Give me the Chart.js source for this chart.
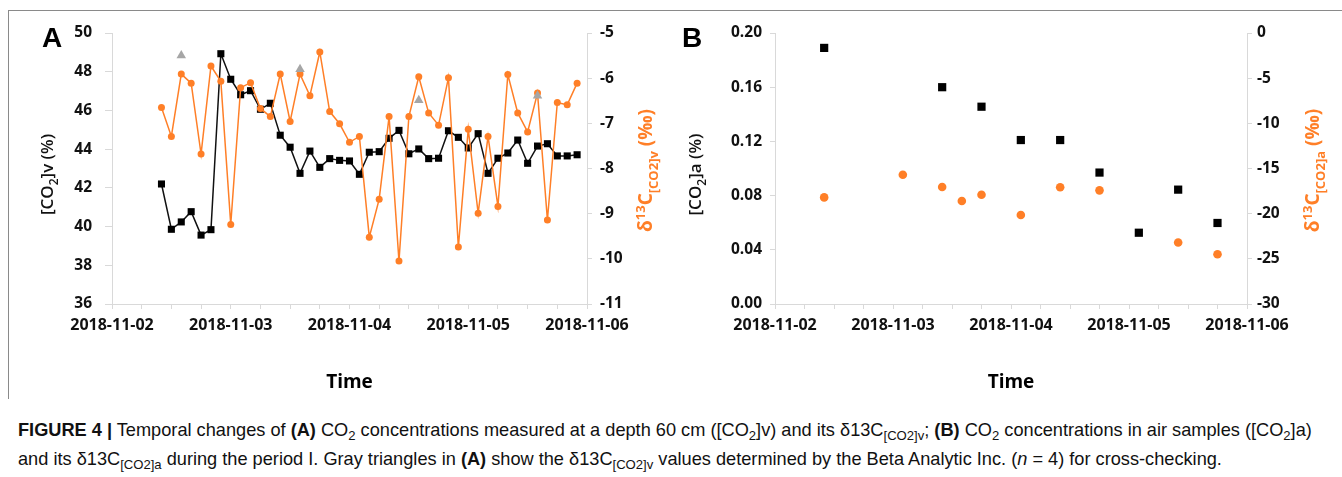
<!DOCTYPE html>
<html>
<head>
<meta charset="utf-8">
<script src="https://cdn.jsdelivr.net/npm/chart.js@4"></script>
<style>
  body { margin: 0; background: #fff; width: 1342px; height: 477px; position: relative; overflow: hidden; font-family: "Open Sans", sans-serif; }
  canvas { position: absolute; top: 0; }
  #chartA { left: 0; }
  #chartB { left: 670px; }
  .frame { position: absolute; left: 8px; top: 10px; width: 1334px; height: 388px; border-top: 1px solid #8a8a8a; border-left: 1px solid #8a8a8a; }
  .panel { position: absolute; top: 22px; font: bold 28px "Liberation Sans", Arial, sans-serif; color: #000; }
  .cap { position: absolute; left: 18px; top: 416px; font: 18.2px/29px "Liberation Sans", Arial, sans-serif; color: #111; white-space: nowrap; }
  .cap sub { font-size: 0.72em; vertical-align: -0.3em; line-height: 0; }
</style>
</head>
<body>
<div class="frame"></div>
<canvas id="chartA" width="670" height="400"></canvas>
<canvas id="chartB" width="672" height="400"></canvas>
<div class="panel" style="left:42px">A</div>
<div class="panel" style="left:682px">B</div>
<div class="cap"><b>FIGURE 4 |</b> Temporal changes of <b>(A)</b> CO<sub>2</sub> concentrations measured at a depth 60 cm ([CO<sub>2</sub>]v) and its δ13C<sub>[CO2]v</sub>; <b>(B)</b> CO<sub>2</sub> concentrations in air samples ([CO<sub>2</sub>]a)<br>and its δ13C<sub>[CO2]a</sub> during the period I. Gray triangles in <b>(A)</b> show the δ13C<sub>[CO2]v</sub> values determined by the Beta Analytic Inc. (<i>n</i> = 4) for cross-checking.</div>
<script>
// panel A: soil gas at 60 cm, every 2 hours
const timesA = [
  "2018-11-02 10:00", "2018-11-02 12:00", "2018-11-02 14:00", "2018-11-02 16:00", "2018-11-02 18:00", "2018-11-02 20:00", "2018-11-02 22:00",
  "2018-11-03 00:00", "2018-11-03 02:00", "2018-11-03 04:00", "2018-11-03 06:00", "2018-11-03 08:00", "2018-11-03 10:00",
  "2018-11-03 12:00", "2018-11-03 14:00", "2018-11-03 16:00", "2018-11-03 18:00", "2018-11-03 20:00", "2018-11-03 22:00",
  "2018-11-04 00:00", "2018-11-04 02:00", "2018-11-04 04:00", "2018-11-04 06:00", "2018-11-04 08:00", "2018-11-04 10:00",
  "2018-11-04 12:00", "2018-11-04 14:00", "2018-11-04 16:00", "2018-11-04 18:00", "2018-11-04 20:00", "2018-11-04 22:00",
  "2018-11-05 00:00", "2018-11-05 02:00", "2018-11-05 04:00", "2018-11-05 06:00", "2018-11-05 08:00", "2018-11-05 10:00",
  "2018-11-05 12:00", "2018-11-05 14:00", "2018-11-05 16:00", "2018-11-05 18:00", "2018-11-05 20:00", "2018-11-05 22:00"
];
const co2v = [
  42.2, 39.86, 40.24, 40.77, 39.56, 39.84, 48.93, 47.61, 46.81, 47.02,
  46.06, 46.37, 44.72, 44.10, 42.75, 43.90, 43.06, 43.51, 43.42, 43.39,
  42.70, 43.84, 43.87, 44.56, 44.97, 43.76, 44.01, 43.51, 43.53, 44.95,
  44.61, 44.06, 44.80, 42.75, 43.53, 43.80, 44.47, 43.27, 44.16, 44.28,
  43.65, 43.65, 43.71
];
const d13Cv = [
  -6.65, -7.29, -5.91, -6.11, -7.68, -5.73, -6.07, -9.24, -6.21, -6.10,
  -6.67, -6.85, -5.91, -6.96, -5.91, -6.39, -5.42, -6.74, -7.01, -7.42,
  -7.29, -9.52, -8.68, -6.85, -10.05, -6.85, -5.97, -6.77, -7.04, -5.99,
  -9.74, -7.13, -8.99, -7.29, -8.84, -5.92, -6.77, -7.19, -6.33, -9.14,
  -6.54, -6.59, -6.11
];
// Beta Analytic cross-check
const betaTimes = ["2018-11-02 14:00", "2018-11-03 14:00", "2018-11-04 14:00", "2018-11-05 14:00"];
const betaD13Cv = [-5.50, -5.80, -6.49, -6.39];

// panel B: air samples
const timesB = [
  "2018-11-02 10:00", "2018-11-03 02:00", "2018-11-03 10:00", "2018-11-03 14:00", "2018-11-03 18:00", "2018-11-04 02:00",
  "2018-11-04 10:00", "2018-11-04 18:00", "2018-11-05 02:00", "2018-11-05 10:00", "2018-11-05 18:00"
];
const co2a = [0.189, null, 0.160, null, 0.1456, 0.121, 0.121, 0.097, 0.0526, 0.0844, 0.0598];
const d13Ca = [-18.2, -15.7, -17.05, -18.6, -17.9, -20.15, -17.08, -17.42, null, -23.2, -24.5];

const dayTicks = ["2018-11-02", "2018-11-03", "2018-11-04", "2018-11-05", "2018-11-06"];

const ORANGE = "#ff7f27";
const AXIS = "#d9d9d9";
const FONT = "'Open Sans', sans-serif";

// hours since 2018-11-02 00:00
function toHours(s) {
  const [d, t] = s.split(" ");
  const day = parseInt(d.slice(8), 10) - 2;
  return day * 24 + parseInt(t.slice(0, 2), 10);
}
function pairs(times, vals) {
  return times.map((t, i) => ({ x: toHours(t), y: vals[i] })).filter(p => p.y !== null);
}

function drawRich(ctx, parts, x, y, size, weight, color) {
  ctx.save();
  ctx.translate(x, y);
  ctx.rotate(-Math.PI / 2);
  ctx.fillStyle = color;
  ctx.textBaseline = "alphabetic";
  const fontOf = p => `${weight} ${(p.sub || p.sup) ? Math.round(size * 0.68) : size}px ${FONT}`;
  const widths = parts.map(p => { ctx.font = fontOf(p); return ctx.measureText(p.t).width; });
  let cx = -widths.reduce((a, b) => a + b, 0) / 2;
  parts.forEach((p, i) => {
    ctx.font = fontOf(p);
    const off = p.sub ? size * 0.3 : p.sup ? -size * 0.38 : 0;
    ctx.fillText(p.t, cx, size * 0.36 + off);
    cx += widths[i];
  });
  ctx.restore();
}

function richTitles(items) {
  return {
    id: "richTitles",
    afterDraw(chart) {
      const area = chart.chartArea;
      const cy = (area.top + area.bottom) / 2;
      items.forEach(it => {
        const sc = chart.scales[it.axis];
        const x = it.side === "left" ? sc.left + it.dx : sc.right - it.dx;
        drawRich(chart.ctx, it.parts, x, cy + it.dy, it.size, it.weight, it.color);
      });
    }
  };
}

function xAxis() {
  return {
    type: "linear", min: 0, max: 96,
    ticks: {
      stepSize: 6, autoSkip: false, maxRotation: 0, minRotation: 0, padding: 7,
      color: "#111", font: { family: FONT, size: 16, weight: "bold" },
      callback: v => (v % 24 === 0 ? dayTicks[v / 24] : "")
    },
    grid: { drawOnChartArea: false, tickLength: 5, color: AXIS },
    border: { color: AXIS },
    title: { display: true, text: "Time", color: "#000", font: { family: FONT, size: 19, weight: "bold" }, padding: { top: 0, bottom: 6 } },
    afterFit: s => { s.height = 96; }
  };
}

function yAxis(pos, min, max, step, width, tickLen, pad, fmt) {
  return {
    position: pos, min: min, max: max,
    ticks: {
      stepSize: step, padding: pad, color: "#111",
      font: { family: FONT, size: 15.5, weight: "bold" },
      callback: fmt || (v => v)
    },
    grid: { drawOnChartArea: false, tickLength: tickLen, color: AXIS },
    border: { color: AXIS },
    afterFit: s => { s.width = width; }
  };
}

Chart.defaults.animation = false;

new Chart(document.getElementById("chartA"), {
  type: "line",
  data: {
    datasets: [
      {
        label: "Beta Analytic", data: pairs(betaTimes, betaD13Cv), yAxisID: "y2", showLine: false,
        pointStyle: "triangle", pointRadius: 5.5, backgroundColor: "#a6a6a6", borderColor: "#a6a6a6", pointBorderWidth: 0, order: 0
      },
      {
        label: "d13C", data: pairs(timesA, d13Cv), yAxisID: "y2",
        borderColor: ORANGE, backgroundColor: ORANGE, borderWidth: 1.5,
        pointStyle: "circle", pointRadius: 3.5, pointBorderWidth: 0, order: 1
      },
      {
        label: "CO2v", data: pairs(timesA, co2v), yAxisID: "y",
        borderColor: "#111", backgroundColor: "#000", borderWidth: 1.5,
        pointStyle: "rect", pointRadius: 5, pointBorderWidth: 0, order: 2
      }
    ]
  },
  options: {
    responsive: false,
    layout: { padding: { top: 33, left: 0, right: 0, bottom: 0 } },
    plugins: { legend: { display: false }, tooltip: { enabled: false } },
    scales: {
      x: xAxis(),
      y: yAxis("left", 36, 50, 2, 112, 7, 13),
      y2: yAxis("right", -11, -5, 1, 83, 5, 8)
    }
  },
  plugins: [richTitles([
    { axis: "y", side: "left", dx: 47, dy: 6, size: 17, weight: 600, color: "#111",
      parts: [{ t: "[CO" }, { t: "2", sub: 1 }, { t: "]v (%)" }] },
    { axis: "y2", side: "right", dx: 25, dy: 2, size: 19, weight: "bold", color: ORANGE,
      parts: [{ t: "δ" }, { t: "13", sup: 1 }, { t: "C" }, { t: "[CO2]v", sub: 1 }, { t: " (‰)" }] }
  ])]
});

new Chart(document.getElementById("chartB"), {
  type: "line",
  data: {
    datasets: [
      {
        label: "d13C a", data: pairs(timesB, d13Ca), yAxisID: "y2", showLine: false,
        pointStyle: "circle", pointRadius: 4.3, backgroundColor: ORANGE, borderColor: ORANGE, pointBorderWidth: 0, order: 0
      },
      {
        label: "CO2a", data: pairs(timesB, co2a), yAxisID: "y", showLine: false,
        pointStyle: "rect", pointRadius: 5.8, backgroundColor: "#000", borderColor: "#000", pointBorderWidth: 0, order: 1
      }
    ]
  },
  options: {
    responsive: false,
    layout: { padding: { top: 33, left: 0, right: 0, bottom: 0 } },
    plugins: { legend: { display: false }, tooltip: { enabled: false } },
    scales: {
      x: xAxis(),
      y: yAxis("left", 0, 0.2, 0.04, 105, 5, 8, v => v.toFixed(2)),
      y2: yAxis("right", -30, 0, 5, 95, 5, 5)
    }
  },
  plugins: [richTitles([
    { axis: "y", side: "left", dx: 25, dy: 6, size: 17, weight: 600, color: "#111",
      parts: [{ t: "[CO" }, { t: "2", sub: 1 }, { t: "]a (%)" }] },
    { axis: "y2", side: "right", dx: 30, dy: 2, size: 19, weight: "bold", color: ORANGE,
      parts: [{ t: "δ" }, { t: "13", sup: 1 }, { t: "C" }, { t: "[CO2]a", sub: 1 }, { t: " (‰)" }] }
  ])]
});
</script>
</body>
</html>
